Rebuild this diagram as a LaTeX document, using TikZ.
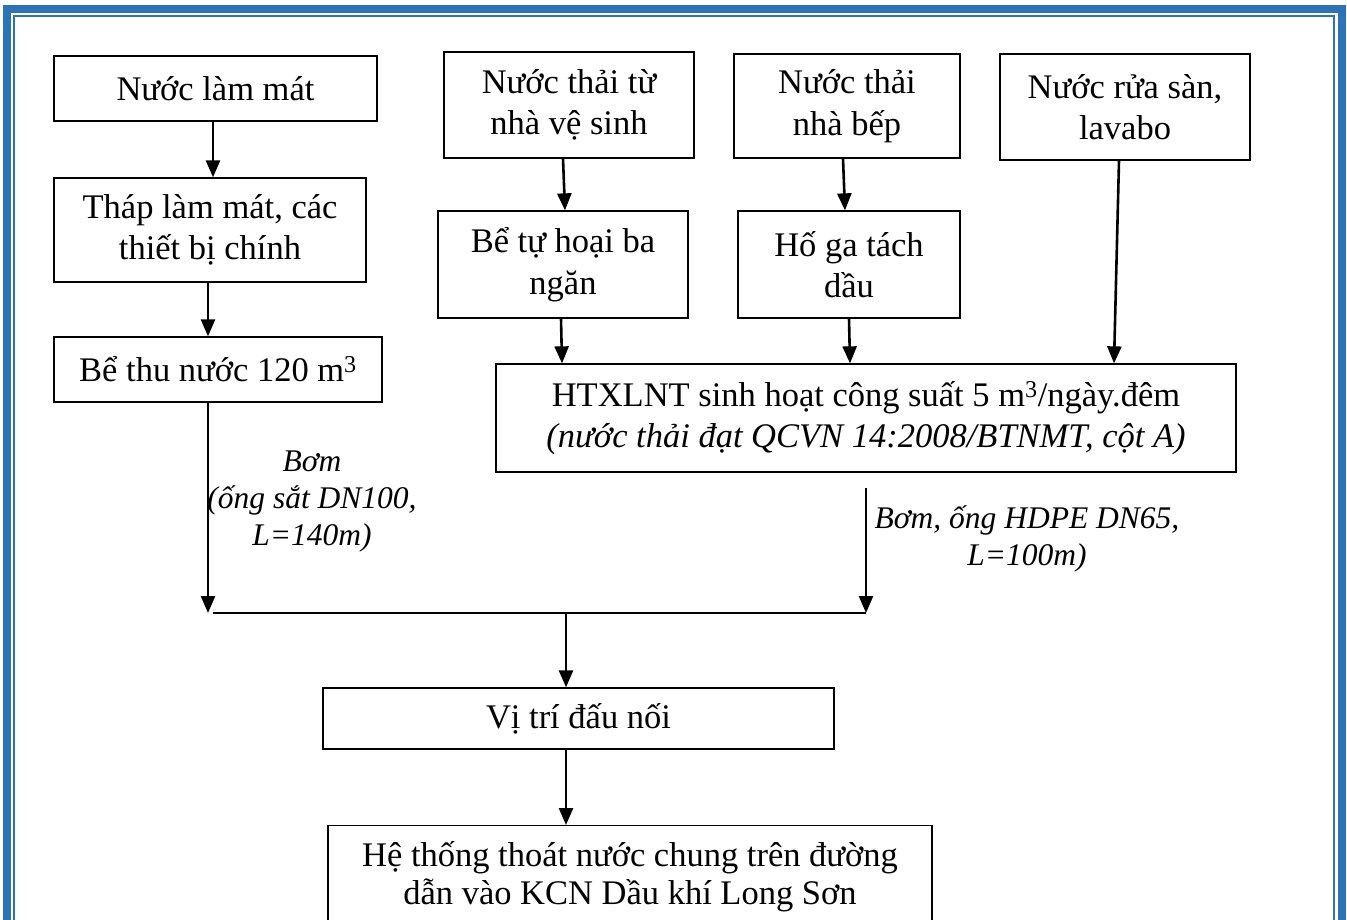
\documentclass[tikz,border=0pt]{standalone}
\usepackage{fontspec}
\setmainfont{Liberation Serif}
\usetikzlibrary{arrows.meta,calc}
\definecolor{frameblue}{HTML}{2E74B5}
\begin{document}
\begin{tikzpicture}[x=1pt,y=-1pt,
  box/.style={draw, line width=1.3pt, align=center, inner sep=0pt,
    font=\fontsize{34.5}{41.5}\selectfont},
  conn/.style={line width=2.6pt, -{Triangle[width=14pt,length=17pt]}},
  plain/.style={line width=2.6pt},
  lbl/.style={align=center, font=\fontsize{31.5}{37}\selectfont\itshape}]
\useasboundingbox (0,0) rectangle (1347,919);
\clip (0,0) rectangle (1347,919);
% frame
\draw[frameblue, line width=8pt] (7,9) rectangle (1341.5,1000);
\draw[frameblue, line width=2.5pt] (14,16) rectangle (1334,1000);
% boxes
\node[box, minimum width=323pt, minimum height=65pt] (n1) at (215.5,88.5) {Nước làm mát};
\node[box, minimum width=312pt, minimum height=104pt] (n2) at (210,230) {Tháp làm mát, các\\thiết bị chính};
\node[box, minimum width=328pt, minimum height=65pt] (n3) at (218,369.5) {Bể thu nước 120 m\textsuperscript{3}};
\node[box, minimum width=250pt, minimum height=106pt] (n4) at (569,105) {Nước thải từ\\nhà vệ sinh};
\node[box, minimum width=226pt, minimum height=104pt] (n5) at (847,106) {Nước thải\\nhà bếp};
\node[box, minimum width=250pt, minimum height=106pt] (n6) at (1125,107) {Nước rửa sàn,\\lavabo};
\node[box, minimum width=250pt, minimum height=107pt] (n7) at (563,264.5) {Bể tự hoại ba\\ngăn};
\node[box, minimum width=222pt, minimum height=107pt] (n8) at (849,264.5) {Hố ga tách\\dầu};
\node[box, minimum width=740pt, minimum height=108pt] (n9) at (866,418) {HTXLNT sinh hoạt công suất 5 m\textsuperscript{3}/ngày.đêm\\\textit{(nước thải đạt QCVN 14:2008/BTNMT, cột A)}};
\node[box, minimum width=511pt, minimum height=61pt] (n10) at (578.5,718.5) {Vị trí đấu nối};
\node[box, minimum width=604pt, anchor=north, inner ysep=16pt, text depth=80pt,
  font=\fontsize{34.5}{38}\selectfont] (n11) at (630,825) {Hệ thống thoát nước chung trên đường\\dẫn vào KCN Dầu khí Long Sơn};
% labels
\node[lbl] (l1) at (312,502) {Bơm\\(ống sắt DN100,\\L=140m)};
\node[lbl] (l2) at (1027,539) {Bơm, ống HDPE DN65,\\L=100m)};
% junctions
\coordinate (j1) at (208,613);
\coordinate (j2) at (866,613);
\coordinate (jl) at (213,613);
\coordinate (jm) at (566,613);
\coordinate (s9) at (866,488);
% connectors
\draw[conn] ([xshift=-2.5pt]n1.south) -- ([xshift=3pt]n2.north);
\draw[conn] ([xshift=-2pt]n2.south) -- ([xshift=-10pt]n3.north);
\draw[conn] ([xshift=-10pt]n3.south) -- (j1);
\draw[conn] ([xshift=-6pt]n4.south) -- ([xshift=2pt]n7.north);
\draw[conn] ([xshift=-4pt]n5.south) -- ([xshift=-4pt]n8.north);
\draw[conn] ([xshift=-2pt]n7.south) -- ([xshift=-304pt]n9.north);
\draw[conn] (n8.south) -- ([xshift=-16pt]n9.north);
\draw[conn] ([xshift=-6pt]n6.south) -- ([xshift=248pt]n9.north);
\draw[conn] (s9) -- (j2);
\draw[plain] (jl) -- (j2);
\draw[conn] (jm) -- ([xshift=-12.5pt]n10.north);
\draw[conn] ([xshift=-12.5pt]n10.south) -- ([xshift=-64pt]n11.north);
\end{tikzpicture}
\end{document}
